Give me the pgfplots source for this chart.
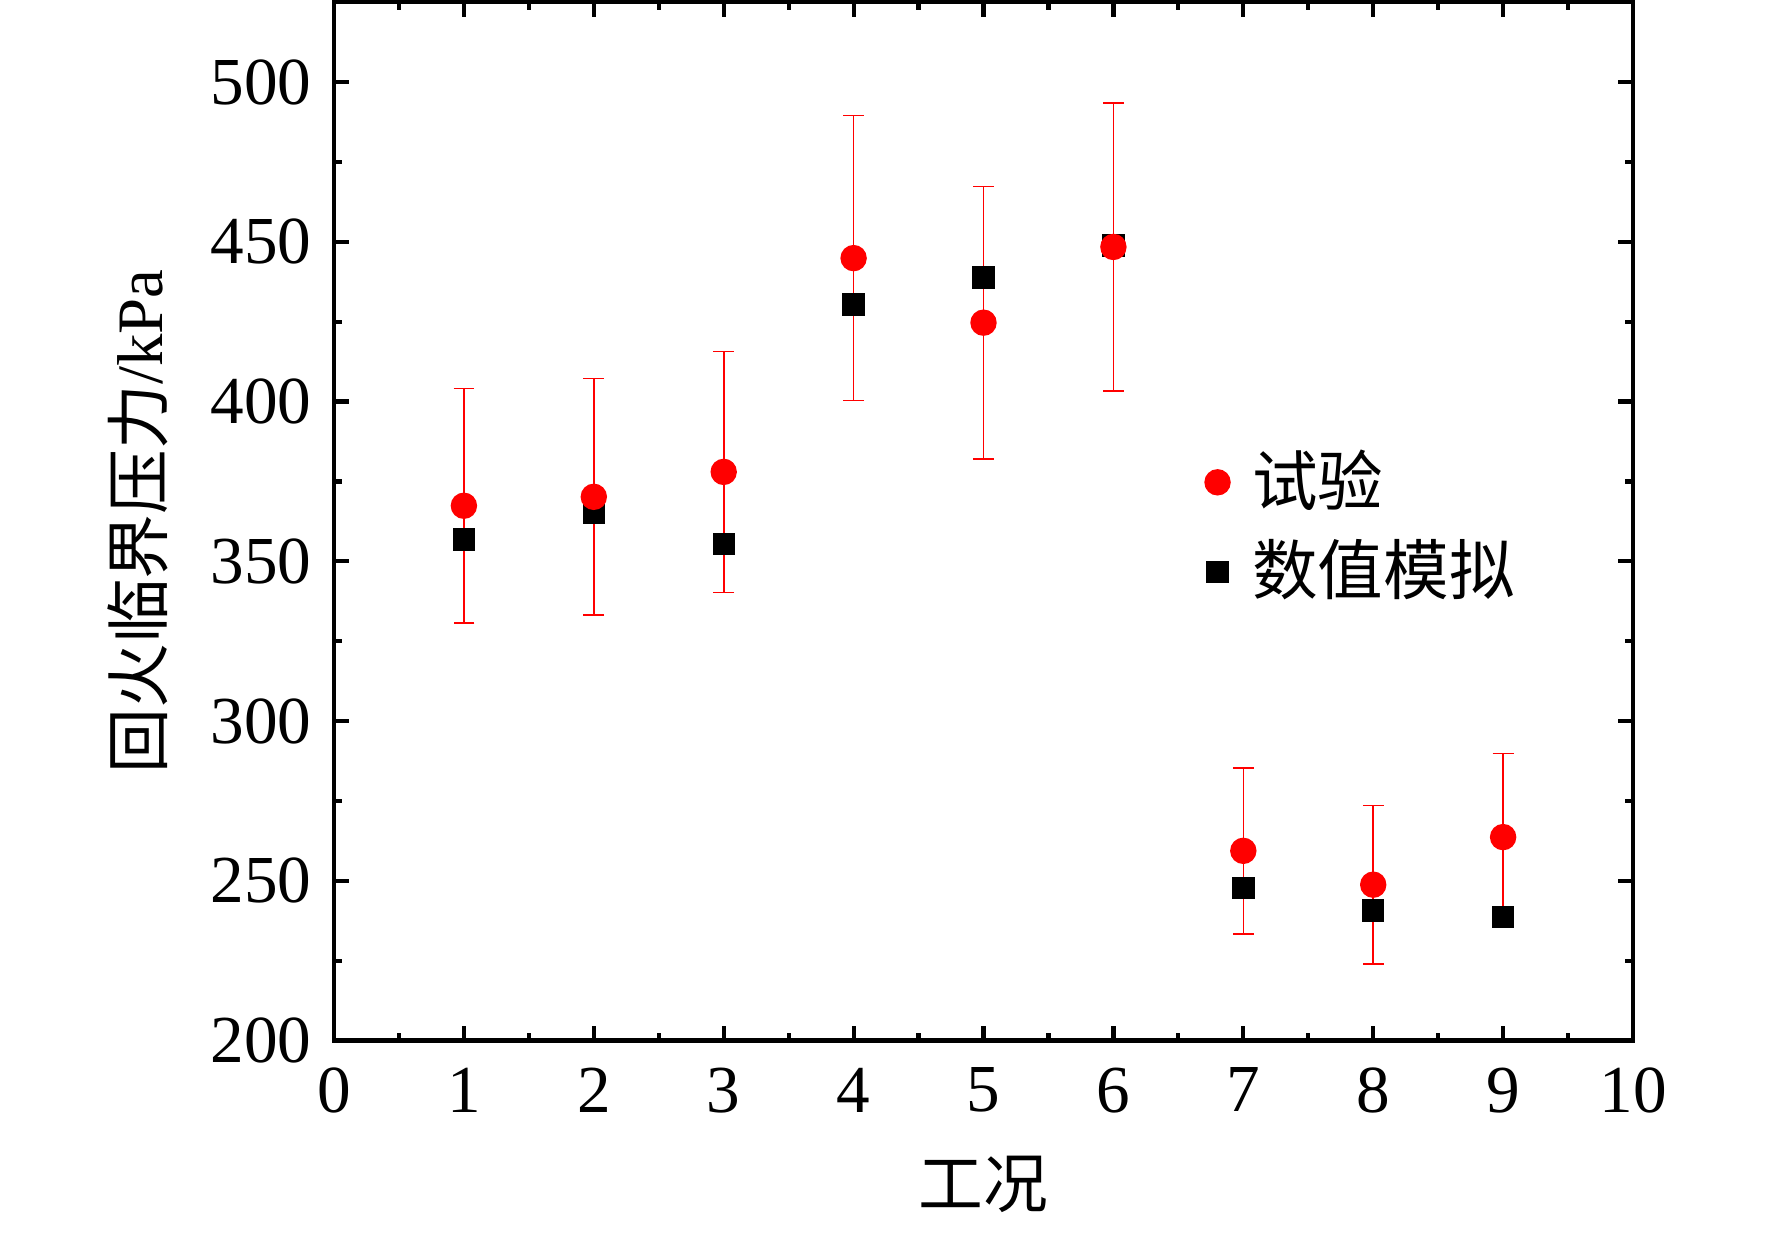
\documentclass[border=0pt]{standalone}
\usepackage{pgfplots}
\pgfplotsset{compat=1.18}
\usepackage{fontspec}
\setmainfont{Liberation Serif}
\newfontfamily\cjk{Noto Sans CJK SC}
\begin{document}
\begin{tikzpicture}
\fontsize{16.2}{19}\selectfont
\begin{axis}[
  scale only axis,
  width=324.75pt, height=259.6pt,
  xmin=0, xmax=10, ymin=200, ymax=525,
  xtick={0,1,...,10}, ytick={200,250,...,500},
  minor x tick num=1, minor y tick num=1,
  tick align=inside,
  major tick length=3.75pt, minor tick length=2pt,
  every tick/.style={black, line width=1.05pt},
  axis line style={black, line width=1.1pt},
  /pgf/number format/assume math mode=true,
  /pgf/number format/1000 sep={},
  tick label style={font=\fontsize{16.8}{19}\selectfont},
  xticklabel style={yshift=-1.2pt},
  label style={font=\fontsize{16.2}{19}\selectfont},
  every axis x label/.style={at={([yshift=-36pt]axis description cs:0.5,0)}, anchor=center},
  every axis y label/.style={at={([xshift=-48.9pt]axis description cs:0,0.5)}, rotate=90, anchor=center},
  xlabel={\cjk 工况},
  ylabel={{\cjk 回火临界压力}/kPa},
  clip=false,
  reverse legend,
  legend style={draw=none, fill=none, inner sep=0pt, at={(axis cs:6.70,360.7)}, anchor=west,
    row sep=2.2pt, font=\fontsize{16.4}{19}\selectfont,
    nodes={inner xsep=5.6pt}},
  legend cell align=left,
  legend image code/.code={\draw[#1,mark repeat=2,mark phase=2] plot coordinates {(0pt,0pt)(3pt,0pt)(6pt,0pt)};},
]
\path[draw=none] ([xshift=-83.5pt,yshift=-47.5pt]rel axis cs:0,0) rectangle ([xshift=34.75pt,yshift=0.42pt]rel axis cs:1,1);

\addplot[only marks, mark=square*, mark size=2.6pt, black, mark options={fill=black, draw=black}]
coordinates {(1,356.8)(2,365.3)(3,355.4)(4,430.4)(5,438.9)(6,448.8)(7,247.8)(8,240.7)(9,238.6)};
\addlegendentry{\cjk 数值模拟}

\addplot[only marks, mark=*, mark size=3.1pt, red, mark options={fill=red, draw=red},
  error bars/.cd, y dir=both, y explicit,
  error bar style={red, line width=0.4pt},
  error mark options={rotate=90, mark size=2.6pt, red, line width=0.4pt}]
table[x=x, y=y, y error=e] {
x y e
1 367.4 36.7
2 370.2 37.0
3 378.0 37.7
4 444.9 44.6
5 424.7 42.6
6 448.4 45.0
7 259.4 26.0
8 248.8 24.8
9 263.7 26.2
};
\addlegendentry{\cjk 试验}
\end{axis}
\end{tikzpicture}
\end{document}
